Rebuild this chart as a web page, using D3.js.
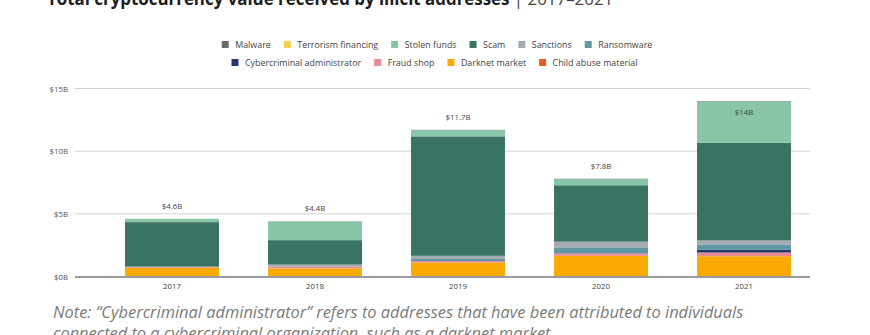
<!DOCTYPE html>
<html>
<head>
<meta charset="utf-8">
<script src="https://cdn.jsdelivr.net/npm/d3@7"></script>
<style>
  html, body { margin: 0; padding: 0; background: #fff; }
  svg { display: block; }
  text { font-family: "Open Sans", Lato, sans-serif; }
</style>
</head>
<body>
<svg id="chart" width="870" height="335"></svg>
<script>
// Years on the x axis
const years = ["2017", "2018", "2019", "2020", "2021"];

// Value received per category, in billions of USD
const malware             = [0.01, 0.02, 0.02, 0.02, 0.04];
const terrorismFinancing  = [0.00, 0.00, 0.00, 0.00, 0.01];
const stolenFunds         = [0.25, 1.48, 0.50, 0.50, 3.27];
const scam                = [3.55, 1.95, 9.53, 4.50, 7.80];
const sanctions           = [0.00, 0.14, 0.25, 0.45, 0.32];
const ransomware          = [0.01, 0.02, 0.16, 0.48, 0.43];
const cybercriminalAdmin  = [0.00, 0.00, 0.01, 0.02, 0.22];
const fraudShop           = [0.07, 0.14, 0.12, 0.18, 0.29];
const darknetMarket       = [0.70, 0.64, 1.10, 1.64, 1.60];
const childAbuseMaterial  = [0.01, 0.01, 0.01, 0.01, 0.02];

// Y axis ticks (billions)
const yTicks = [0, 5, 10, 15];

// Legend order (as read left to right, top to bottom)
const seriesNames = ["Malware", "Terrorism financing", "Stolen funds", "Scam", "Sanctions",
  "Ransomware", "Cybercriminal administrator", "Fraud shop", "Darknet market", "Child abuse material"];
const seriesValues = [malware, terrorismFinancing, stolenFunds, scam, sanctions,
  ransomware, cybercriminalAdmin, fraudShop, darknetMarket, childAbuseMaterial];
const seriesColors = ["#6a6a6c", "#f6d04d", "#89c6a7", "#387364", "#a6aab2",
  "#5f97a3", "#24386b", "#ea8a93", "#fbaa04", "#f05a1c"];

const svg = d3.select("#chart");

// Rows of the table used by d3.stack
const rows = years.map((yr, i) => {
  const r = { year: yr };
  seriesNames.forEach((n, k) => { r[n] = seriesValues[k][i]; });
  return r;
});
// Stack bottom-up: reverse of the legend order
const stackKeys = seriesNames.slice().reverse();
const stacked = d3.stack().keys(stackKeys)(rows);
const color = d3.scaleOrdinal().domain(seriesNames).range(seriesColors);
const totals = rows.map(r => d3.sum(seriesNames, n => r[n]));

const x = d3.scaleBand().domain(years).range([100.5, 815.5]).paddingInner(0.343).paddingOuter(0.1715);
const y = d3.scaleLinear().domain([0, 15]).range([276.5, 88.5]);

// Title (partly above the top edge)
const title = svg.append("text").attr("x", 47).attr("y", 5)
  .attr("fill", "#1e1e1e").style("font-size", "16.9px");
title.append("tspan").attr("font-weight", 700).text("Total cryptocurrency value received by illicit addresses");
title.append("tspan").attr("font-weight", 400).attr("fill", "#444").text(" | 2017–2021");

// Legend
const legendRows = [seriesNames.slice(0, 6), seriesNames.slice(6)];
const legendY = [44.5, 62.5];
const legendCenter = [437, 434.5];
legendRows.forEach((names, ri) => {
  const g = svg.append("g");
  let cx = 0;
  names.forEach(n => {
    const item = g.append("g").attr("transform", `translate(${cx},0)`);
    item.append("rect").attr("x", 0).attr("y", legendY[ri] - 3.5).attr("width", 7).attr("height", 7)
      .attr("fill", color(n));
    const t = item.append("text").attr("x", 13.5).attr("y", legendY[ri] + 3)
      .attr("fill", "#444").style("font-size", "8.9px").text(n);
    cx += 13.5 + t.node().getComputedTextLength() + 13;
  });
  const w = cx - 13;
  g.attr("transform", `translate(${legendCenter[ri] - w / 2},0)`);
});

// Gridlines and y tick labels
const grid = svg.append("g");
yTicks.forEach(v => {
  if (v !== 0) {
    grid.append("line").attr("x1", 75).attr("x2", 810).attr("y1", y(v)).attr("y2", y(v))
      .attr("stroke", "#d2d2d2").attr("stroke-width", 1);
  }
  grid.append("text").attr("x", 68).attr("y", y(v) + 3).attr("text-anchor", "end")
    .attr("fill", "#555").style("font-size", "7.8px").text(`$${v}B`);
});

// Stacked bars
svg.append("g").selectAll("g").data(stacked).join("g")
  .attr("fill", d => color(d.key))
  .selectAll("rect").data(d => d).join("rect")
  .attr("x", d => x(d.data.year))
  .attr("width", x.bandwidth())
  .attr("y", d => y(d[1]))
  .attr("height", d => Math.max(0, y(d[0]) - y(d[1])));

// Baseline
svg.append("line").attr("x1", 75).attr("x2", 810).attr("y1", y(0) + 0.5).attr("y2", y(0) + 0.5)
  .attr("stroke", "#9a9a9a").attr("stroke-width", 2);

// X axis labels
const xAxis = d3.axisBottom(x).tickSize(0).tickPadding(0);
const xg = svg.append("g").attr("transform", `translate(0,${y(0) + 7})`).call(xAxis);
xg.select(".domain").remove();
xg.selectAll("text").attr("fill", "#444").style("font-size", "7.8px")
  .style("font-family", "'Open Sans', Lato, sans-serif");

// Total labels (placed inside the bar when it reaches the top of the plot)
const fmt = v => "$" + d3.format(".1f")(v).replace(/\.0$/, "") + "B";
svg.append("g").selectAll("text").data(years).join("text")
  .attr("x", d => x(d) + x.bandwidth() / 2)
  .attr("y", (d, i) => {
    const top = y(totals[i]);
    return top - 22 < y(15) ? top + 13.5 : top - 10;
  })
  .attr("text-anchor", "middle").attr("fill", "#444").style("font-size", "7.8px")
  .text((d, i) => fmt(totals[i]));

// Footnote
const note = svg.append("g").attr("fill", "#7b7b7b").style("font-style", "italic").style("font-size", "16.4px");
note.append("text").attr("x", 53).attr("y", 318)
  .text("Note: “Cybercriminal administrator” refers to addresses that have been attributed to individuals");
note.append("text").attr("x", 53).attr("y", 339)
  .text("connected to a cybercriminal organization, such as a darknet market.");
</script>
</body>
</html>
